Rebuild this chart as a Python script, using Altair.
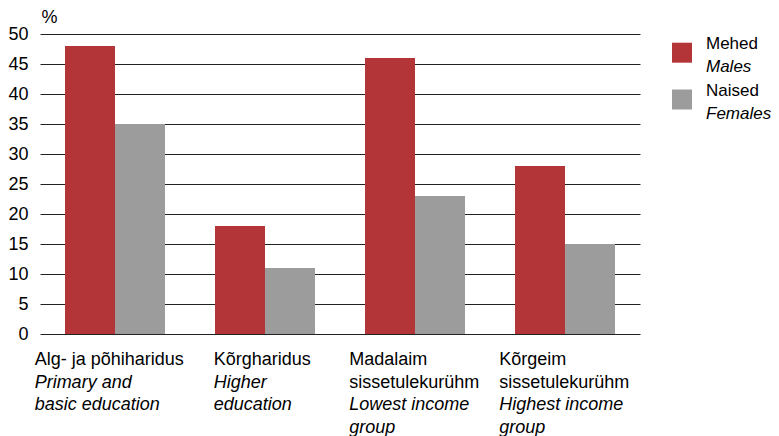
import altair as alt
import pandas as pd

# ---- data ----
cat_keys = ["c1", "c2", "c3", "c4"]
cat_lines_et = [["Alg- ja põhiharidus"], ["Kõrgharidus"],
                ["Madalaim", "sissetulekurühm"], ["Kõrgeim", "sissetulekurühm"]]
cat_lines_en = [["Primary and", "basic education"], ["Higher", "education"],
                ["Lowest income", "group"], ["Highest income", "group"]]
series = ["Mehed", "Naised"]
series_en = ["Males", "Females"]
males = [48, 18, 46, 28]
females = [35, 11, 23, 15]
colors = ["#B43538", "#9C9C9C"]
y_ticks = list(range(0, 55, 5))

FONT = "Liberation Sans"
FS = 18
LFS = 17
LH = 22.6

bars_df = pd.DataFrame(
    [{"cat": c, "series": series[0], "value": v} for c, v in zip(cat_keys, males)]
    + [{"cat": c, "series": series[1], "value": v} for c, v in zip(cat_keys, females)]
)

rows = []
for c, et, en in zip(cat_keys, cat_lines_et, cat_lines_en):
    maxlen = max(len(s) for s in et + en)
    for i, s in enumerate(et + en):
        rows.append({"cat": c, "line": i, "txt": s, "ital": i >= len(et), "maxlen": maxlen})
lab_df = pd.DataFrame(rows)

leg_df = pd.DataFrame({"series": series, "en": series_en})

xenc = alt.X("cat:N", sort=cat_keys,
             scale=alt.Scale(paddingInner=0, paddingOuter=0), axis=None)
color = alt.Color("series:N", scale=alt.Scale(domain=series, range=colors), legend=None)

bars = alt.Chart(bars_df).mark_bar(size=50).encode(
    x=xenc,
    xOffset=alt.XOffset("series:N", sort=series,
                        scale=alt.Scale(paddingInner=0, paddingOuter=0.5)),
    y=alt.Y("value:Q", scale=alt.Scale(domain=[0, 50], nice=False),
            axis=alt.Axis(values=y_ticks, title="%", titleAngle=0, titleX=1,
                          titleY=-12, titleAlign="left", titleBaseline="alphabetic",
                          titleFontWeight="normal", titleFontSize=FS, titleFont=FONT,
                          titleColor="#000",
                          labelFontSize=FS, labelFont=FONT, labelColor="#000",
                          domain=False, ticks=False, labelPadding=12,
                          grid=True, gridColor="#222", gridWidth=1, gridOpacity=1)),
    color=color,
)

shift = alt.XOffset("shift:Q", scale=alt.Scale(domain=[0, 150], range=[0, 150],
                                               zero=False, nice=False))
shift_expr = "75 - 11.4 - 3.63*datum.maxlen"
line_y = alt.Y("line:Q", scale=alt.Scale(domain=[0, 1], range=[331, 331 + LH],
                                         zero=False, nice=False), axis=None)


def label_layer(italic):
    return alt.Chart(lab_df).transform_filter(
        "datum.ital" if italic else "!datum.ital"
    ).transform_calculate(shift=shift_expr).mark_text(
        align="left", baseline="alphabetic", font=FONT, fontSize=FS,
        fontStyle="italic" if italic else "normal", color="#000"
    ).encode(x=xenc, xOffset=shift, y=line_y, text="txt:N")


labels_reg = label_layer(False)
labels_it = label_layer(True)

leg_y = alt.Y("series:N", sort=series,
              scale=alt.Scale(domain=series, range=[18.7, 65.5], padding=0), axis=None)
leg_sq = alt.Chart(leg_df).mark_square(size=400, opacity=1).encode(
    x=alt.value(642), y=leg_y, color=color
)
leg_t1 = alt.Chart(leg_df).mark_text(align="left", baseline="alphabetic", font=FONT,
                                     fontSize=LFS, dy=-3.6, color="#000").encode(
    x=alt.value(666), y=leg_y, text="series:N"
)
leg_t2 = alt.Chart(leg_df).mark_text(align="left", baseline="alphabetic", font=FONT,
                                     fontSize=LFS, fontStyle="italic", dy=19.4,
                                     color="#000").encode(
    x=alt.value(666), y=leg_y, text="en:N"
)

chart = alt.layer(bars, labels_reg, labels_it, leg_sq, leg_t1, leg_t2).resolve_scale(
    xOffset="independent", y="independent"
).properties(
    width=600, height=300,
    autosize=alt.AutoSizeParams(type="none"),
    padding={"left": 32, "top": 26, "right": 131, "bottom": 102},
).configure_view(stroke=None)

chart.save("out.html", embed_options={"renderer": "svg", "actions": False})
